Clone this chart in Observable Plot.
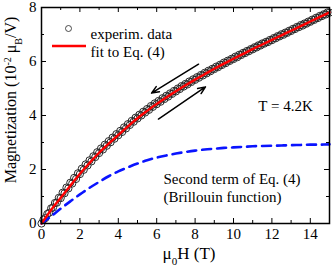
<!DOCTYPE html>
<html><head><meta charset="utf-8">
<script src="https://cdn.jsdelivr.net/npm/d3@7"></script>
<script src="https://cdn.jsdelivr.net/npm/@observablehq/plot@0.6"></script>
<style>body{margin:0;background:#fff} svg text, svg tspan {font-family: "Liberation Serif", "Times New Roman", Times, "DejaVu Serif", serif !important;}</style>
</head><body><div id="chart"></div>
<script>
// Fit to Eq. (4) (red line)
const fitH = [0,0.5,1,1.5,2,2.5,3,3.5,4,4.5,5,5.5,6,6.5,7,7.5,8,8.5,9,9.5,10,10.5,11,11.5,12,12.5,13,13.5,14,14.5,15];
const fitM = [0,0.5,0.95,1.4,1.84,2.24,2.62,2.96,3.28,3.6,3.9,4.17,4.43,4.67,4.9,5.12,5.33,5.53,5.73,5.92,6.1,6.28,6.46,6.63,6.8,6.97,7.14,7.31,7.48,7.65,7.82];
// Second term (Brillouin function), blue dashed
const brilM = [0,0.27,0.55,0.82,1.08,1.32,1.54,1.75,1.93,2.08,2.22,2.34,2.44,2.52,2.59,2.65,2.7,2.74,2.77,2.8,2.82,2.84,2.86,2.87,2.88,2.89,2.9,2.91,2.92,2.92,2.93];
// Experimental data, increasing field branch
const upH = [0,0.2,0.4,0.6,0.8,1,1.2,1.4,1.6,1.8,2,2.2,2.4,2.6,2.8,3,3.2,3.4,3.6,3.8,4,4.2,4.4,4.6,4.8,5,5.2,5.4,5.6,5.8,6,6.2,6.4,6.6,6.8,7,7.2,7.4,7.6,7.8,8,8.2,8.4,8.6,8.8,9,9.2,9.4,9.6,9.8,10,10.2,10.4,10.6,10.8,11,11.2,11.4,11.6,11.8,12,12.2,12.4,12.6,12.8,13,13.2,13.4,13.6,13.8,14,14.2,14.4,14.6,14.8,15];
const upM = [0,0.2,0.4,0.59,0.77,0.94,1.12,1.3,1.48,1.65,1.83,1.99,2.15,2.3,2.46,2.61,2.74,2.88,3.01,3.14,3.27,3.39,3.52,3.65,3.77,3.89,4,4.11,4.21,4.32,4.42,4.51,4.61,4.7,4.8,4.89,4.98,5.07,5.15,5.24,5.32,5.4,5.48,5.56,5.64,5.72,5.79,5.87,5.94,6.02,6.09,6.16,6.24,6.31,6.38,6.45,6.52,6.59,6.66,6.72,6.79,6.86,6.93,6.99,7.06,7.13,7.2,7.27,7.33,7.4,7.47,7.54,7.61,7.68,7.74,7.81];
// Experimental data, decreasing field branch
const downH = [0.1,0.3,0.5,0.7,0.9,1.1,1.3,1.5,1.7,1.9,2.1,2.3,2.5,2.7,2.9,3.1,3.3,3.5,3.7,3.9,4.1,4.3,4.5,4.7,4.9,5.1,5.3,5.5,5.7,5.9,6.1,6.3,6.5,6.7,6.9,7.1,7.3,7.5,7.7,7.9,8.1,8.3,8.5,8.7,8.9,9.1,9.3,9.5,9.7,9.9,10.1,10.3,10.5,10.7,10.9,11.1,11.3,11.5,11.7,11.9,12.1,12.3,12.5,12.7,12.9,13.1,13.3,13.5,13.7,13.9,14.1,14.3,14.5,14.7,14.9];
const downM = [0.14,0.35,0.56,0.76,0.95,1.14,1.33,1.51,1.69,1.86,2.03,2.19,2.34,2.49,2.64,2.78,2.92,3.05,3.18,3.31,3.43,3.56,3.68,3.8,3.92,4.03,4.14,4.24,4.35,4.45,4.54,4.64,4.73,4.82,4.91,5,5.09,5.17,5.26,5.34,5.42,5.5,5.58,5.66,5.73,5.81,5.88,5.96,6.03,6.1,6.18,6.25,6.32,6.39,6.46,6.53,6.6,6.67,6.73,6.8,6.87,6.94,7.01,7.07,7.14,7.21,7.28,7.35,7.41,7.48,7.55,7.62,7.69,7.75,7.82];
// Sweep-direction arrows
const arrowX1 = [8.18, 6.09];
const arrowY1 = [5.9, 3.87];
const arrowX2 = [5.73, 8.54];
const arrowY2 = [4.83, 5.06];
// Ticks
const xMajor = [0,2,4,6,8,10,12,14];
const xMinor = [1,3,5,7,9,11,13,15];
const yMajor = [0,2,4,6,8];
const yMinor = [1,3,5,7];

const fit = fitH.map((h,i)=>({h, m: fitM[i]}));
const bril = fitH.map((h,i)=>({h, m: brilM[i]}));
const exp = upH.map((h,i)=>({h, m: upM[i]})).concat(downH.map((h,i)=>({h, m: downM[i]})));
const arrows = arrowX1.map((x,i)=>({x1:x, y1:arrowY1[i], x2:arrowX2[i], y2:arrowY2[i]}));

const W = 332, H = 266, mL = 41, mR = 3, mT = 7, mB = 43;
const iw = W - mL - mR, ih = H - mT - mB;
const font = "Liberation Serif, Times New Roman, serif";
const fs = 15;

const chart = Plot.plot({
  width: W, height: H,
  marginLeft: mL, marginRight: mR, marginTop: mT, marginBottom: mB,
  x: {domain: [0, 15]},
  y: {domain: [0, 8]},
  style: {fontSize: "15px", color: "black", background: "white"},
  marks: [
    Plot.dot(exp, {x: "h", y: "m", r: 3.6, stroke: "#2a2a2a", strokeWidth: 1, fill: "none"}),
    Plot.line(bril, {x: "h", y: "m", stroke: "#0a14ff", strokeWidth: 2.6, strokeDasharray: "9,6", curve: "catmull-rom"}),
    Plot.line(fit, {x: "h", y: "m", stroke: "#ff0000", strokeWidth: 2.4, curve: "catmull-rom"}),
    Plot.arrow(arrows, {x1: "x1", y1: "y1", x2: "x2", y2: "y2", stroke: "black", strokeWidth: 1.5, headLength: 8, headAngle: 45}),
    Plot.tickX(xMajor, {x: d => d, insetTop: ih - 5, stroke: "black"}),
    Plot.tickX(xMajor, {x: d => d, insetBottom: ih - 5, stroke: "black"}),
    Plot.tickX(xMinor, {x: d => d, insetTop: ih - 3, stroke: "black"}),
    Plot.tickX(xMinor, {x: d => d, insetBottom: ih - 3, stroke: "black"}),
    Plot.tickY(yMajor, {y: d => d, insetRight: iw - 5, stroke: "black"}),
    Plot.tickY(yMajor, {y: d => d, insetLeft: iw - 5, stroke: "black"}),
    Plot.tickY(yMinor, {y: d => d, insetRight: iw - 3, stroke: "black"}),
    Plot.tickY(yMinor, {y: d => d, insetLeft: iw - 3, stroke: "black"}),
    Plot.axisX(xMajor, {tickSize: 0, tickPadding: 5, label: null, fontSize: fs, fontFamily: font}),
    Plot.axisY(yMajor, {tickSize: 0, tickPadding: 5, label: null, fontSize: fs, fontFamily: font}),
    Plot.frame({stroke: "black", strokeWidth: 1.5}),
    Plot.text(["T = 4.2K"], {frameAnchor: "top-left", dx: 244, dy: 93, textAnchor: "middle", fontSize: fs, fontFamily: font}),
    Plot.text(["Second term of Eq. (4)"], {frameAnchor: "top-left", dx: 122, dy: 166, textAnchor: "start", fontSize: fs, fontFamily: font}),
    Plot.text(["(Brillouin function)"], {frameAnchor: "top-left", dx: 122, dy: 184, textAnchor: "start", fontSize: fs, fontFamily: font}),
    Plot.dot([0], {frameAnchor: "top-left", dx: 27, dy: 21, r: 3, stroke: "#222", strokeWidth: 0.8, fill: "none"}),
    Plot.text(["experim. data"], {frameAnchor: "top-left", dx: 49, dy: 21, textAnchor: "start", fontSize: fs, fontFamily: font}),
    Plot.text(["fit to Eq. (4)"], {frameAnchor: "top-left", dx: 49, dy: 39, textAnchor: "start", fontSize: fs, fontFamily: font})
  ]
});

const svg = d3.select(chart);
// legend line for the fit
svg.append("line").attr("x1", 52).attr("x2", 86).attr("y1", 46).attr("y2", 46)
  .attr("stroke", "#ff0000").attr("stroke-width", 2.4);
// x axis label
const xl = svg.append("text").attr("x", 189).attr("y", 259).attr("text-anchor", "middle")
  .attr("font-family", font).attr("font-size", 17).attr("fill", "black");
xl.append("tspan").text("μ");
xl.append("tspan").attr("baseline-shift", "sub").attr("font-size", 11).text("0");
xl.append("tspan").text("H (T)");
// y axis label
const yl = svg.append("text").attr("transform", "translate(16,100) rotate(-90)").attr("text-anchor", "middle")
  .attr("font-family", font).attr("font-size", 16).attr("fill", "black");
yl.append("tspan").text("Magnetization (10");
yl.append("tspan").attr("baseline-shift", "super").attr("font-size", 10).text("-2");
yl.append("tspan").text(" μ");
yl.append("tspan").attr("baseline-shift", "sub").attr("font-size", 10).text("B");
yl.append("tspan").text("/V)");

document.getElementById("chart").appendChild(chart);
</script>
</body></html>
